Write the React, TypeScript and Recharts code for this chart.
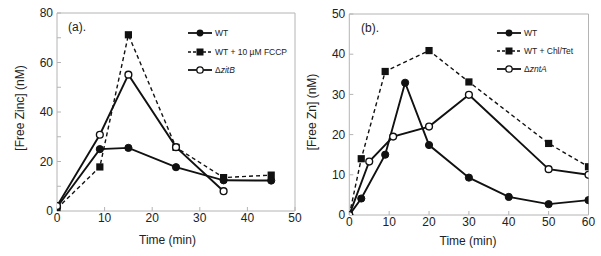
import React from "react";
import { Line, LineChart, XAxis, YAxis } from "recharts";

// panel (a): free zinc after shock
const timeA = [0, 9, 15, 25, 35, 45];
const wtA = [1.5, 25, 25.5, 17.7, 12.4, 12.3];
const fccpA = [1, 17.8, 71.2, 25.7, 13.5, 14.5];
const timeZitB = [0, 9, 15, 25, 35];
const zitB = [2, 30.8, 55.1, 25.8, 8];

// panel (b)
const timeWtB = [0, 3, 9, 14, 20, 30, 40, 50, 60];
const wtB = [0, 4.1, 15, 32.9, 17.4, 9.3, 4.5, 2.7, 3.7];
const timeChl = [0, 3, 9, 20, 30, 50, 60];
const chlB = [0, 14, 35.7, 40.9, 33.1, 17.8, 12];
const timeZnt = [0, 5, 11, 20, 30, 50, 60];
const zntB = [0, 13.3, 19.5, 22, 29.9, 11.4, 10];

const xTicksA = [0, 10, 20, 30, 40, 50];
const yTicksA = [0, 10, 20, 30, 40, 50, 60, 70, 80];
const xTicksB = [0, 10, 20, 30, 40, 50, 60];
const yTicksB = [0, 10, 20, 30, 40, 50];

const FRAME = "#b4b4b4";
const INK = "#111";
const TXT = "#222";
const FONT = "'Liberation Sans', Arial, sans-serif";

const zip = (t: number[], v: number[]) => t.map((x, i) => ({ t: x, v: v[i] }));

const Square = (props: any) => {
  const { cx, cy, index } = props;
  if (cx == null || cy == null) return <g key={index} />;
  return <rect key={index} x={cx - 3.6} y={cy - 3.6} width={7.2} height={7.2} fill={INK} />;
};

const filledDot = { r: 3.6, fill: INK, stroke: INK, strokeWidth: 1 };
const openDot = { r: 3.4, fill: "#fff", stroke: INK, strokeWidth: 1.4 };

// axes have 1px size so they still draw; all four sides carry inward ticks
function Frame({ xMax, yMax, xTicks, yTicks, yLabelEvery }: { xMax: number; yMax: number; xTicks: number[]; yTicks: number[]; yLabelEvery: number }) {
  const tickStyle = { fontSize: 12, fill: TXT, fontFamily: FONT };
  return (
    <>
      <XAxis dataKey="t" type="number" domain={[0, xMax]} ticks={xTicks} allowDataOverflow height={1}
        tickSize={-4} tickMargin={6} axisLine={{ stroke: FRAME }} tickLine={{ stroke: FRAME }} tick={tickStyle} interval={0} />
      <XAxis xAxisId="top" orientation="top" type="number" domain={[0, xMax]} ticks={xTicks} allowDataOverflow height={1}
        tickSize={-4} axisLine={{ stroke: FRAME }} tickLine={{ stroke: FRAME }} tick={false} interval={0} />
      <YAxis type="number" domain={[0, yMax]} ticks={yTicks} allowDataOverflow width={1}
        tickSize={-4} tickMargin={8} axisLine={{ stroke: FRAME }} tickLine={{ stroke: FRAME }} tick={tickStyle} interval={0}
        tickFormatter={(v: number) => (v % yLabelEvery === 0 ? String(v) : "")} />
      <YAxis yAxisId="right" orientation="right" type="number" domain={[0, yMax]} ticks={yTicks} allowDataOverflow width={1}
        tickSize={-4} axisLine={{ stroke: FRAME }} tickLine={{ stroke: FRAME }} tick={false} interval={0} />
    </>
  );
}

function LegendRow({ x, y, kind, children }: { x: number; y: number; kind: "filled" | "square" | "open"; children: React.ReactNode }) {
  return (
    <div style={{ position: "absolute", left: x, top: y - 7, height: 14, display: "flex", alignItems: "center", fontSize: 8.5, color: TXT, fontFamily: FONT, whiteSpace: "nowrap" }}>
      <svg width={25} height={14} style={{ display: "block" }}>
        <line x1={0} y1={7} x2={24} y2={7} stroke={INK} strokeWidth={kind === "square" ? 1.3 : 1.8} strokeDasharray={kind === "square" ? "3 2" : undefined} />
        {kind === "square" && <rect x={8.5} y={3.5} width={7} height={7} fill={INK} />}
        {kind === "filled" && <circle cx={12} cy={7} r={3.4} fill={INK} />}
        {kind === "open" && <circle cx={12} cy={7} r={3.2} fill="#fff" stroke={INK} strokeWidth={1.3} />}
      </svg>
      <span style={{ marginLeft: 2 }}>{children}</span>
    </div>
  );
}

const abs = (style: React.CSSProperties): React.CSSProperties => ({ position: "absolute", fontFamily: FONT, color: TXT, whiteSpace: "nowrap", ...style });

export default function App() {
  return (
    <div style={{ position: "absolute", left: 0, top: 0, width: 601, height: 256, background: "#fff", overflow: "hidden" }}>
      <div style={{ position: "absolute", left: 0, top: 0 }}>
        <LineChart width={306} height={256} margin={{ top: 12, right: 10, bottom: 44, left: 56 }}>
          {Frame({ xMax: 50, yMax: 80, xTicks: xTicksA, yTicks: yTicksA, yLabelEvery: 20 })}
          <Line data={zip(timeA, fccpA)} dataKey="v" stroke={INK} strokeWidth={1.4} strokeDasharray="4 3" dot={Square} activeDot={false} isAnimationActive={false} />
          <Line data={zip(timeA, wtA)} dataKey="v" stroke={INK} strokeWidth={1.9} dot={filledDot} activeDot={false} isAnimationActive={false} />
          <Line data={zip(timeZitB, zitB)} dataKey="v" stroke={INK} strokeWidth={1.9} dot={openDot} activeDot={false} isAnimationActive={false} />
        </LineChart>
      </div>
      <div style={{ position: "absolute", left: 300, top: 0 }}>
        <LineChart width={301} height={256} margin={{ top: 13, right: 11.5, bottom: 40, left: 48.3 }}>
          {Frame({ xMax: 60, yMax: 50, xTicks: xTicksB, yTicks: yTicksB, yLabelEvery: 10 })}
          <Line data={zip(timeChl, chlB)} dataKey="v" stroke={INK} strokeWidth={1.4} strokeDasharray="4 3" dot={Square} activeDot={false} isAnimationActive={false} />
          <Line data={zip(timeWtB, wtB)} dataKey="v" stroke={INK} strokeWidth={1.9} dot={filledDot} activeDot={false} isAnimationActive={false} />
          <Line data={zip(timeZnt, zntB)} dataKey="v" stroke={INK} strokeWidth={1.9} dot={openDot} activeDot={false} isAnimationActive={false} />
        </LineChart>
      </div>

      <div style={abs({ left: 68, top: 20, fontSize: 12 })}>(a).</div>
      <div style={abs({ left: 361, top: 21, fontSize: 12 })}>(b).</div>

      <div style={abs({ left: 167.5, top: 233, fontSize: 12, transform: "translateX(-50%)" })}>Time (min)</div>
      <div style={abs({ left: 468, top: 234, fontSize: 12, transform: "translateX(-50%)" })}>Time (min)</div>

      <div style={abs({ left: 20, top: 108, fontSize: 12, transform: "translate(-50%, -50%) rotate(-90deg)" })}>[Free Zinc] (nM)</div>
      <div style={abs({ left: 312, top: 112, fontSize: 12, transform: "translate(-50%, -50%) rotate(-90deg)" })}>[Free Zn] (nM)</div>

      <LegendRow x={188} y={33} kind="filled">WT</LegendRow>
      <LegendRow x={188} y={52} kind="square">WT + 10 µM FCCP</LegendRow>
      <LegendRow x={188} y={70} kind="open">Δ<i>zitB</i></LegendRow>

      <LegendRow x={497} y={33} kind="filled">WT</LegendRow>
      <LegendRow x={497} y={51} kind="square">WT + Chl/Tet</LegendRow>
      <LegendRow x={497} y={69} kind="open">Δ<i>zntA</i></LegendRow>
    </div>
  );
}
